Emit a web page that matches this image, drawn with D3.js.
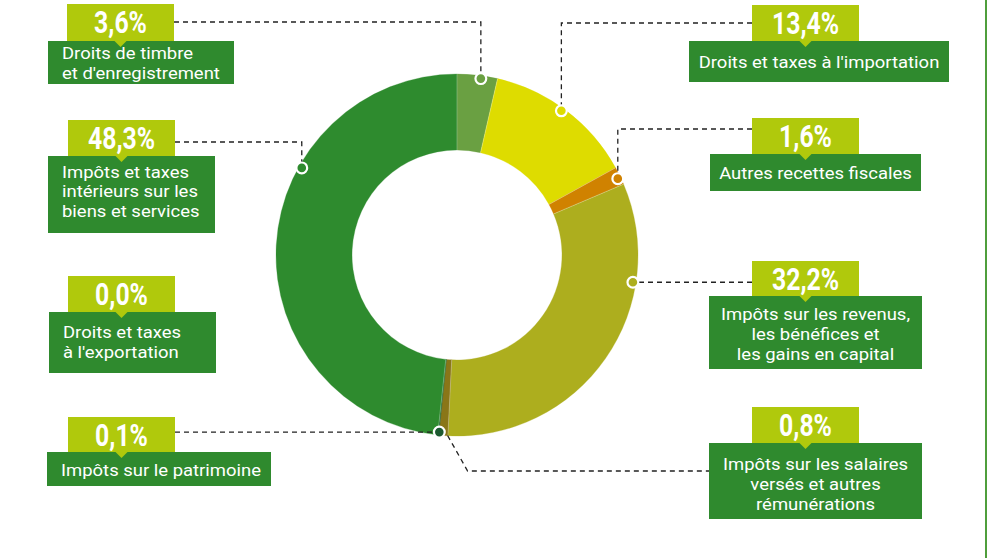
<!DOCTYPE html>
<html>
<head>
<meta charset="utf-8">
<script src="https://cdn.jsdelivr.net/npm/d3@7/dist/d3.min.js"></script>
<style>
  html, body { margin: 0; padding: 0; background: #ffffff; }
  svg { display: block; }
</style>
</head>
<body>
<svg id="chart" width="991" height="558"></svg>
<script>
// Répartition des recettes fiscales (en % du total)
const categories = [
  "Droits de timbre et d'enregistrement",
  "Droits et taxes à l'importation",
  "Autres recettes fiscales",
  "Impôts sur les revenus, les bénéfices et les gains en capital",
  "Impôts sur les salaires versés et autres rémunérations",
  "Impôts sur le patrimoine",
  "Droits et taxes à l'exportation",
  "Impôts et taxes intérieurs sur les biens et services"
];
const shares = [3.6, 13.4, 1.6, 32.2, 0.8, 0.1, 0.0, 48.3];
const labelLines = [
  ["Droits de timbre", "et d'enregistrement"],
  ["Droits et taxes à l'importation"],
  ["Autres recettes fiscales"],
  ["Impôts sur les revenus,", "les bénéfices et", "les gains en capital"],
  ["Impôts sur les salaires", "versés et autres", "rémunérations"],
  ["Impôts sur le patrimoine"],
  ["Droits et taxes", "à l'exportation"],
  ["Impôts et taxes", "intérieurs sur les", "biens et services"]
];
const sliceColors = ["#6aa042", "#dedc00", "#d08200", "#adae1e", "#8a7618", "#1c5a30", "#2e8b2e", "#2e8b2e"];

// Placement des étiquettes : boîte du pourcentage, boîte du libellé, lignes de base, repère
const layout = [
  { px: 67,  py: 4,   bx: 48,  by: 41,  bw: 186, bh: 43, align: "left",   base: [59, 78.5],        dotAngle: 7.7,   lead: "up",    ay: 22 },
  { px: 752, py: 5,   bx: 689, by: 41,  bw: 260, bh: 41, align: "center", base: [68],              dotAngle: 35.9,  lead: "up",    ay: 23 },
  { px: 752, py: 118, bx: 710, by: 154, bw: 211, bh: 37, align: "center", base: [179],             dotAngle: 64.6,  lead: "up",    ay: 129 },
  { px: 752, py: 261, bx: 709, by: 296, bw: 213, bh: 73, align: "center", base: [320, 340, 360],   dotAngle: 98.8,  lead: "flat" },
  { px: 752, py: 407, bx: 709, by: 443, bw: 213, bh: 76, align: "center", base: [470, 490, 510],   dotAngle: null,  lead: "bent",  ay: 471 },
  { px: 68,  py: 417, bx: 47,  by: 452, bw: 224, bh: 34, align: "left",   base: [476],             dotAngle: 185.7, lead: "flat" },
  { px: 68,  py: 276, bx: 49,  by: 312, bw: 167, bh: 61, align: "left",   base: [338, 357.5],      dotAngle: null,  lead: "none" },
  { px: 68,  py: 120, bx: 48,  by: 156, bw: 167, bh: 77, align: "left",   base: [177.5, 197, 216.5], dotAngle: 299.3, lead: "up",  ay: 142 }
];

const W = 991, H = 558;
const cx = 457, cy = 255;
const rOuter = 181, rInner = 105, rDot = 178;
const pctW = 107;

const lightGreen = "#b0c90c";
const darkGreen = "#2f8a2e";

const locale = d3.formatLocale({ decimal: ",", thousands: " ", grouping: [3] });
const fmt = locale.format(".1f");

const svg = d3.select("#chart");

// Cadre vert à droite
svg.append("line")
  .attr("x1", 986).attr("x2", 986).attr("y1", 0).attr("y2", H)
  .attr("stroke", "#4f9e3c").attr("stroke-width", 2);

// Anneau
const pie = d3.pie().sort(null).value(d => d).startAngle(0).endAngle(2 * Math.PI);
const arcs = pie(shares);
const arc = d3.arc().innerRadius(rInner).outerRadius(rOuter);

const ring = svg.append("g").attr("transform", `translate(${cx},${cy})`);
ring.selectAll("path.slice")
  .data(arcs)
  .join("path")
  .attr("class", "slice")
  .attr("d", arc)
  .attr("fill", (d, i) => sliceColors[i])
  .attr("stroke", (d, i) => sliceColors[i])
  .attr("stroke-width", 0.3);

// Fines séparations claires entre les secteurs
ring.selectAll("line.sep")
  .data(arcs.filter(d => d.value > 0.5))
  .join("line")
  .attr("class", "sep")
  .attr("x1", d => rInner * Math.sin(d.startAngle))
  .attr("y1", d => -rInner * Math.cos(d.startAngle))
  .attr("x2", d => rOuter * Math.sin(d.startAngle))
  .attr("y2", d => -rOuter * Math.cos(d.startAngle))
  .attr("stroke", "#ffffff").attr("stroke-opacity", 0.35).attr("stroke-width", 0.8);

function dotPos(deg) {
  const a = deg * Math.PI / 180;
  return [cx + rDot * Math.sin(a), cy - rDot * Math.cos(a)];
}

// Traits de rappel en pointillés
const leaders = svg.append("g")
  .attr("fill", "none")
  .attr("stroke", "#222222")
  .attr("stroke-width", 1.3)
  .attr("stroke-dasharray", "5,4");

layout.forEach((L, i) => {
  const left = L.align === "left";
  const edgeX = left ? L.px + pctW : L.px;
  if (L.lead === "up") {
    const [dx, dy] = dotPos(L.dotAngle);
    leaders.append("path").attr("d", `M${edgeX},${L.ay}H${dx}V${dy}`);
  } else if (L.lead === "flat") {
    const [dx, dy] = dotPos(L.dotAngle);
    leaders.append("path").attr("d", `M${edgeX},${dy}H${dx}`);
  } else if (L.lead === "bent") {
    const a = arcs[i];
    const mid = (a.startAngle + a.endAngle) / 2;
    const sx = cx + (rOuter - 3) * Math.sin(mid) + 4;
    const sy = cy - (rOuter - 3) * Math.cos(mid) + 3;
    leaders.append("path").attr("d", `M${sx},${sy}L${sx + 20},${L.ay}H${L.bx}`);
  }
});

// Pastilles sur l'anneau
layout.forEach((L, i) => {
  if (L.dotAngle == null) return;
  const [dx, dy] = dotPos(L.dotAngle);
  svg.append("circle")
    .attr("cx", dx).attr("cy", dy).attr("r", 5.4)
    .attr("fill", sliceColors[i])
    .attr("stroke", "#ffffff").attr("stroke-width", 2.2);
});

// Étiquettes
const labels = svg.append("g");
layout.forEach((L, i) => {
  const g = labels.append("g");
  // boîte du libellé
  g.append("rect")
    .attr("x", L.bx).attr("y", L.by).attr("width", L.bw).attr("height", L.bh)
    .attr("fill", darkGreen);
  // boîte du pourcentage
  g.append("rect")
    .attr("x", L.px).attr("y", L.py).attr("width", pctW).attr("height", L.by - L.py)
    .attr("fill", lightGreen);
  // petite pointe
  const tx = L.px + pctW / 2;
  g.append("path")
    .attr("d", `M${tx - 6},${L.by}L${tx + 6},${L.by}L${tx},${L.by + 6}Z`)
    .attr("fill", lightGreen);
  // pourcentage
  g.append("text")
    .attr("transform", `translate(${tx},${L.py + 29}) scale(0.8,1)`)
    .attr("text-anchor", "middle")
    .attr("font-family", "Roboto, 'DejaVu Sans', sans-serif")
    .attr("font-weight", 700)
    .attr("font-size", 31)
    .attr("fill", "#ffffff")
    .text(fmt(shares[i]) + "%");
  // libellé
  const lx = L.align === "left" ? L.bx + 14 : L.bx + L.bw / 2;
  labelLines[i].forEach((line, k) => {
    g.append("text")
      .attr("transform", `translate(${lx},${L.base[k]}) scale(1.12,1)`)
      .attr("text-anchor", L.align === "left" ? "start" : "middle")
      .attr("font-family", "Roboto, 'DejaVu Sans', sans-serif")
      .attr("font-weight", 400)
      .attr("font-size", 16.5)
      .attr("fill", "#ffffff")
      .text(line);
  });
});
</script>
</body>
</html>
